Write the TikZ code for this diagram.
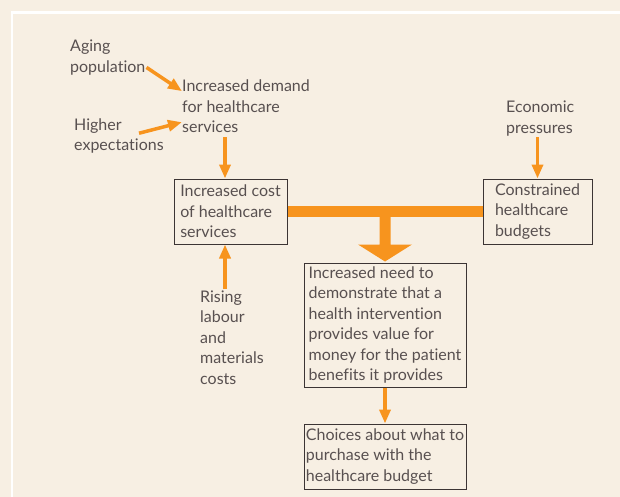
\documentclass[tikz,border=0pt]{standalone}
\usepackage{fontspec}
\setmainfont{Lato}[Ligatures=NoCommon]
\usetikzlibrary{arrows.meta,calc}
\definecolor{bg}{RGB}{247,239,227}
\definecolor{org}{RGB}{247,148,30}
\definecolor{txtc}{RGB}{88,80,80}
\definecolor{boxc}{RGB}{60,52,52}
\begin{document}
\begin{tikzpicture}[x=1pt,y=-1pt,
  txt/.style={font=\fontsize{16}{20.5}\selectfont, text=txtc, align=left, inner sep=0pt},
  box/.style={txt, draw=boxc, line width=1pt},
  arr/.style={draw=org, line width=3.5pt, -{Triangle[length=14pt,width=11pt]}}]
\useasboundingbox (0,0) rectangle (620,497);
\fill[bg] (0,0) rectangle (620,497);
\draw[white, line width=2.5pt] (12,497) -- (12,12.5) -- (620,12.5);

% text nodes (anchored at the baseline of the last line)
\node[txt, anchor=base west] (aging) at (70,72.5) {Aging\\population};
\node[txt, anchor=base west] (demand) at (182,133) {Increased demand\\for healthcare\\services};
\node[txt, anchor=base west] (higher) at (74,150.5) {Higher\\expectations};
\node[txt, anchor=base west] (econ) at (506,133.5) {Economic\\pressures};
\node[txt, anchor=base west] (rising) at (200,384) {Rising\\labour\\and\\materials\\costs};

% boxes
\node[box, minimum width=113pt, minimum height=65pt] (cost) at (230.5,211.5) {Increased cost\\of healthcare\\services};
\node[box, minimum width=109pt, minimum height=65pt] (constr) at (537.5,211.5) {Constrained\\healthcare\\budgets};
\node[box, minimum width=162pt, minimum height=124pt] (need) at (385,325) {Increased need to\\demonstrate that a\\health intervention\\provides value for\\money for the patient\\benefits it provides};
\node[box, minimum width=162pt, minimum height=65pt] (choices) at (385,456.5) {Choices about what to\\purchase with the\\healthcare budget};

% connectors
\draw[arr] ($(aging.south east)+(1,-8)$) -- ([yshift=15.5pt]demand.west);
\draw[arr] ($(higher.west)+(65,-2.5)$) -- ([yshift=-15.5pt]demand.west);
\draw[arr] ($(cost.north |- demand.south)+(-5.5,4)$) -- ($(cost.north)+(-5.5,0)$);
\draw[arr] ($(constr.north |- econ.south)+(0,1)$) -- (constr.north);
\draw[arr] ($(cost.south |- rising.north)+(-5.5,-1)$) -- ($(cost.south)+(-5.5,0)$);
\draw[arr] (need.south) -- (choices.north);

% thick bar and big arrow
\draw[org, line width=10.5pt] (cost.east) -- (constr.west);
\fill[org] ($(need.north)+(-5.5,-51)$) -- ($(need.north)+(5.5,-51)$) -- ($(need.north)+(5.5,-18)$)
  -- ($(need.north)+(27,-18)$) -- ($(need.north)+(0,-1)$) -- ($(need.north)+(-27,-18)$)
  -- ($(need.north)+(-5.5,-18)$) -- cycle;
\end{tikzpicture}
\end{document}
